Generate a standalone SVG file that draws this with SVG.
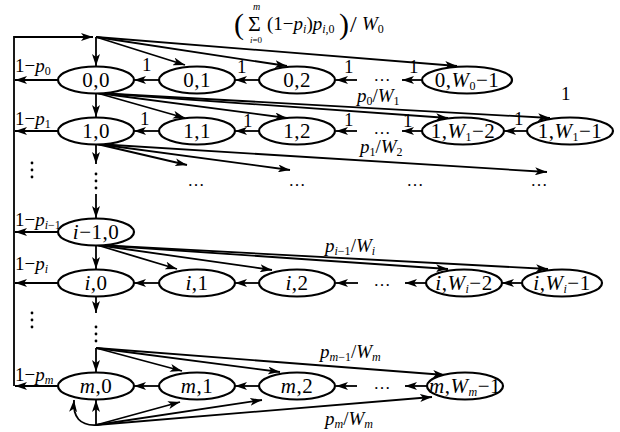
<svg xmlns="http://www.w3.org/2000/svg" width="620" height="432" viewBox="0 0 620 432" font-family="'Liberation Serif', 'DejaVu Serif', 'Times New Roman', serif">
<defs>
<marker id="a" viewBox="0 0 12 8" refX="12" refY="4" markerWidth="12" markerHeight="8" orient="auto" markerUnits="userSpaceOnUse"><path d="M0,0 L12,4 L0,8 L3,4 z" fill="#000"/></marker>
<style>
.e{fill:#fff;stroke:#000;stroke-width:2.2}
.c line,.c path,.c polyline{stroke:#000;stroke-width:1.8;fill:none}
.ar{marker-end:url(#a)}
text{font-family:'Liberation Serif','DejaVu Serif','Times New Roman',serif;fill:#000}
.n{font-size:21px;text-anchor:middle;letter-spacing:0.5px}
.l{font-size:19px}
.it{font-style:italic}
.s{font-size:12px}
.d{font-size:17px;text-anchor:middle}
</style>
</defs>
<rect width="620" height="432" fill="#fff"/>

<g id="connectors" class="c">
<polyline points="14,386 14,37 93,37" class="ar"/>
<line x1="96" y1="37" x2="96" y2="66" class="ar"/>
<line x1="96" y1="37" x2="185" y2="65" class="ar"/>
<line x1="96" y1="37" x2="287" y2="66" class="ar"/>
<line x1="96" y1="37" x2="457" y2="66" class="ar"/>
<line x1="58" y1="80" x2="15" y2="80" class="ar"/>
<line x1="58" y1="131" x2="15" y2="131" class="ar"/>
<line x1="58" y1="232" x2="15" y2="232" class="ar"/>
<line x1="58" y1="283" x2="15" y2="283" class="ar"/>
<line x1="58" y1="386" x2="15" y2="386" class="ar"/>
<line x1="159" y1="80" x2="134" y2="80" class="ar"/>
<line x1="259" y1="80" x2="235" y2="80" class="ar"/>
<line x1="357" y1="80" x2="336" y2="80" class="ar"/>
<line x1="422" y1="80" x2="402" y2="80" class="ar"/>
<line x1="159" y1="131" x2="134" y2="131" class="ar"/>
<line x1="259" y1="131" x2="235" y2="131" class="ar"/>
<line x1="357" y1="131" x2="336" y2="131" class="ar"/>
<line x1="422" y1="131" x2="402" y2="131" class="ar"/>
<line x1="527" y1="131" x2="504" y2="131" class="ar"/>
<line x1="159" y1="283" x2="134" y2="283" class="ar"/>
<line x1="259" y1="283" x2="235" y2="283" class="ar"/>
<line x1="358" y1="283" x2="336" y2="283" class="ar"/>
<line x1="427" y1="283" x2="405" y2="283" class="ar"/>
<line x1="523" y1="283" x2="502" y2="283" class="ar"/>
<line x1="159" y1="386" x2="134" y2="386" class="ar"/>
<line x1="259" y1="386" x2="235" y2="386" class="ar"/>
<line x1="357" y1="386" x2="336" y2="386" class="ar"/>
<line x1="427" y1="386" x2="405" y2="386" class="ar"/>
<line x1="96" y1="93" x2="96" y2="117" class="ar"/>
<line x1="97" y1="93" x2="185" y2="118" class="ar"/>
<line x1="97" y1="93" x2="287" y2="118" class="ar"/>
<line x1="97" y1="93" x2="448" y2="118" class="ar"/>
<line x1="97" y1="93" x2="550" y2="118" class="ar"/>
<line x1="96" y1="144" x2="96" y2="164" class="ar"/>
<line x1="97" y1="144" x2="187" y2="165" class="ar"/>
<line x1="97" y1="144" x2="290" y2="170" class="ar"/>
<line x1="97" y1="144" x2="547" y2="172" class="ar"/>
<line x1="96" y1="194" x2="96" y2="218" class="ar"/>
<line x1="96" y1="245" x2="96" y2="269" class="ar"/>
<line x1="97" y1="245" x2="177" y2="269" class="ar"/>
<line x1="97" y1="245" x2="272" y2="270" class="ar"/>
<line x1="97" y1="245" x2="448" y2="269" class="ar"/>
<line x1="97" y1="245" x2="548" y2="269" class="ar"/>
<line x1="96" y1="296" x2="96" y2="313" class="ar"/>
<line x1="96" y1="348" x2="96" y2="372" class="ar"/>
<line x1="96" y1="348" x2="182" y2="371" class="ar"/>
<line x1="96" y1="348" x2="280" y2="372" class="ar"/>
<line x1="96" y1="348" x2="445" y2="375" class="ar"/>
<line x1="96" y1="425" x2="96" y2="400" class="ar"/>
<path d="M96,425 Q72,426 74,400" class="ar"/>
<line x1="96" y1="425" x2="180" y2="402" class="ar"/>
<line x1="96" y1="425" x2="262" y2="400" class="ar"/>
<line x1="96" y1="425" x2="432" y2="397" class="ar"/>
</g>

<g id="vdots" fill="#000">
<circle cx="96" cy="174" r="1.4"/><circle cx="96" cy="181" r="1.4"/><circle cx="96" cy="188" r="1.4"/>
<circle cx="96" cy="327" r="1.4"/><circle cx="96" cy="334" r="1.4"/><circle cx="96" cy="341" r="1.4"/>
<circle cx="32" cy="163" r="1.4"/><circle cx="32" cy="170" r="1.4"/><circle cx="32" cy="177" r="1.4"/>
<circle cx="32" cy="313" r="1.4"/><circle cx="32" cy="320" r="1.4"/><circle cx="32" cy="327" r="1.4"/>
</g>

<g id="n00"><ellipse class="e" cx="96" cy="80" rx="38" ry="13.5"/><text class="n" x="96" y="87">0,0</text></g>
<g id="n01"><ellipse class="e" cx="197" cy="80" rx="38" ry="13.5"/><text class="n" x="197" y="87">0,1</text></g>
<g id="n02"><ellipse class="e" cx="297" cy="80" rx="38" ry="13.5"/><text class="n" x="297" y="87">0,2</text></g>
<g id="n0w"><ellipse class="e" cx="467" cy="80" rx="45" ry="13.5"/><text class="n" x="467" y="87">0,<tspan class="it">W</tspan><tspan class="s" dy="3">0</tspan><tspan dy="-3">−1</tspan></text></g>

<g id="n10"><ellipse class="e" cx="96" cy="131" rx="38" ry="13.5"/><text class="n" x="96" y="138">1,0</text></g>
<g id="n11"><ellipse class="e" cx="197" cy="131" rx="38" ry="13.5"/><text class="n" x="197" y="138">1,1</text></g>
<g id="n12"><ellipse class="e" cx="297" cy="131" rx="38" ry="13.5"/><text class="n" x="297" y="138">1,2</text></g>
<g id="n1w2"><ellipse class="e" cx="463" cy="131" rx="41" ry="13.5"/><text class="n" x="463" y="138">1,<tspan class="it">W</tspan><tspan class="s" dy="3">1</tspan><tspan dy="-3">−2</tspan></text></g>
<g id="n1w1"><ellipse class="e" cx="570" cy="131" rx="43" ry="13.5"/><text class="n" x="570" y="138">1,<tspan class="it">W</tspan><tspan class="s" dy="3">1</tspan><tspan dy="-3">−1</tspan></text></g>

<g id="ni10"><ellipse class="e" cx="96" cy="232" rx="38" ry="13.5"/><text class="n" x="96" y="239"><tspan class="it">i</tspan>−1,0</text></g>

<g id="ni0"><ellipse class="e" cx="96" cy="283" rx="38" ry="13.5"/><text class="n" x="96" y="290"><tspan class="it">i</tspan>,0</text></g>
<g id="ni1"><ellipse class="e" cx="197" cy="283" rx="38" ry="13.5"/><text class="n" x="197" y="290"><tspan class="it">i</tspan>,1</text></g>
<g id="ni2"><ellipse class="e" cx="297" cy="283" rx="38" ry="13.5"/><text class="n" x="297" y="290"><tspan class="it">i</tspan>,2</text></g>
<g id="niw2"><ellipse class="e" cx="464" cy="283" rx="38" ry="13.5"/><text class="n" x="464" y="290"><tspan class="it">i</tspan>,<tspan class="it">W</tspan><tspan class="s it" dy="3">i</tspan><tspan dy="-3">−2</tspan></text></g>
<g id="niw1"><ellipse class="e" cx="562" cy="283" rx="40" ry="13.5"/><text class="n" x="562" y="290"><tspan class="it">i</tspan>,<tspan class="it">W</tspan><tspan class="s it" dy="3">i</tspan><tspan dy="-3">−1</tspan></text></g>

<g id="nm0"><ellipse class="e" cx="96" cy="386" rx="38" ry="13.5"/><text class="n" x="96" y="393"><tspan class="it">m</tspan>,0</text></g>
<g id="nm1"><ellipse class="e" cx="197" cy="386" rx="38" ry="13.5"/><text class="n" x="197" y="393"><tspan class="it">m</tspan>,1</text></g>
<g id="nm2"><ellipse class="e" cx="297" cy="386" rx="38" ry="13.5"/><text class="n" x="297" y="393"><tspan class="it">m</tspan>,2</text></g>
<g id="nmw"><ellipse class="e" cx="465" cy="386" rx="38" ry="13.5"/><text class="n" x="465" y="393"><tspan class="it">m</tspan>,<tspan class="it">W</tspan><tspan class="s it" dy="3">m</tspan><tspan dy="-3">−1</tspan></text></g>

<g id="dots">
<text class="d" x="382" y="81">…</text>
<text class="d" x="382" y="134">…</text>
<text class="d" x="382" y="286">…</text>
<text class="d" x="382" y="389">…</text>
<text class="d" x="196" y="186">…</text>
<text class="d" x="297" y="186">…</text>
<text class="d" x="415" y="186">…</text>
<text class="d" x="539" y="186">…</text>
</g>

<g id="labels">
<text class="l" x="15" y="72">1−<tspan class="it">p</tspan><tspan class="s" dy="3">0</tspan></text>
<text class="l" x="15" y="125">1−<tspan class="it">p</tspan><tspan class="s" dy="3">1</tspan></text>
<text class="l" x="15" y="226">1−<tspan class="it">p</tspan><tspan class="s it" dy="3">i</tspan><tspan class="s">−1</tspan></text>
<text class="l" x="15" y="270">1−<tspan class="it">p</tspan><tspan class="s it" dy="3">i</tspan></text>
<text class="l" x="15" y="381">1−<tspan class="it">p</tspan><tspan class="s it" dy="3">m</tspan></text>

<text class="l" x="142" y="71">1</text>
<text class="l" x="237" y="73">1</text>
<text class="l" x="344" y="73">1</text>
<text class="l" x="409" y="73">1</text>
<text class="l" x="140" y="125">1</text>
<text class="l" x="243" y="127">1</text>
<text class="l" x="344" y="126">1</text>
<text class="l" x="403" y="127">1</text>
<text class="l" x="514" y="125">1</text>
<text class="l" x="561" y="100">1</text>

<text class="l" x="357" y="102"><tspan class="it">p</tspan><tspan class="s" dy="3">0</tspan><tspan dy="-3">/</tspan><tspan class="it">W</tspan><tspan class="s" dy="3">1</tspan></text>
<text class="l" x="360" y="153"><tspan class="it">p</tspan><tspan class="s" dy="3">1</tspan><tspan dy="-3">/</tspan><tspan class="it">W</tspan><tspan class="s" dy="3">2</tspan></text>
<text class="l" x="325" y="252"><tspan class="it">p</tspan><tspan class="s" dy="3"><tspan class="it">i</tspan>−1</tspan><tspan dy="-3">/</tspan><tspan class="it">W</tspan><tspan class="s it" dy="3">i</tspan></text>
<text class="l" x="320" y="358"><tspan class="it">p</tspan><tspan class="s" dy="3"><tspan class="it">m</tspan>−1</tspan><tspan dy="-3">/</tspan><tspan class="it">W</tspan><tspan class="s it" dy="3">m</tspan></text>
<text class="l" x="325" y="425"><tspan class="it">p</tspan><tspan class="s it" dy="3">m</tspan><tspan dy="-3">/</tspan><tspan class="it">W</tspan><tspan class="s it" dy="3">m</tspan></text>

<text x="234" y="34" font-size="30">(</text>
<text x="248" y="31" font-size="22">Σ</text>
<text x="253" y="10" font-size="10" class="it">m</text>
<text x="250" y="43" font-size="9"><tspan class="it">i</tspan>=0</text>
<text class="l" x="267" y="30">(1−<tspan class="it">p</tspan><tspan class="s it" dy="3">i</tspan><tspan dy="-3">)</tspan><tspan class="it">p</tspan><tspan class="s" dy="3"><tspan class="it">i</tspan>,0</tspan></text>
<text x="339" y="34" font-size="30">)</text>
<text x="350" y="32" font-size="24">/</text>
<text class="l" x="362" y="30"><tspan class="it">W</tspan><tspan class="s" dy="3">0</tspan></text>
</g>
</svg>
